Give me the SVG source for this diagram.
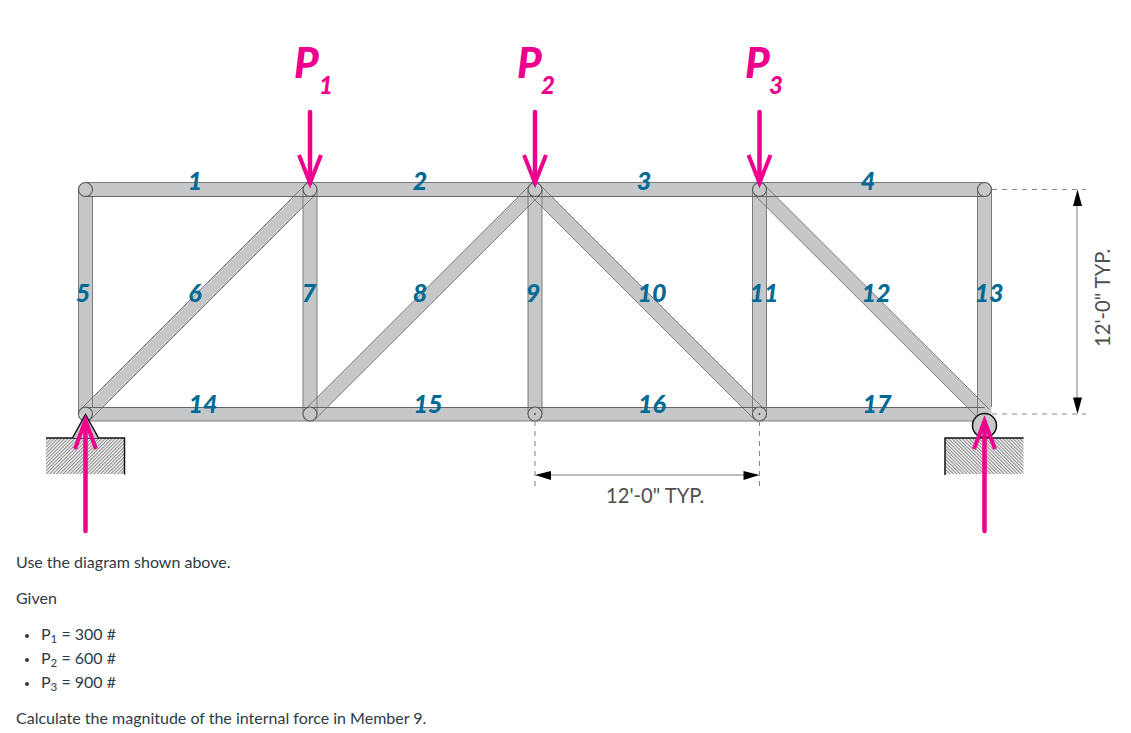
<svg xmlns="http://www.w3.org/2000/svg" width="1131" height="733" viewBox="0 0 1131 733">
<style>
.m{fill:#c6c7c9}
.o{fill:none;stroke:#7b7c7e;stroke-width:1}
.k{fill:none;stroke:#636466;stroke-width:1.200}
.j{fill:#c6c7c9;stroke:#58595b;stroke-width:1.100}
.e{fill:none;stroke:#58595b;stroke-width:1.100}
.n{font-family:Lato,sans-serif;font-weight:900;font-style:italic;font-size:25px;fill:#006a94;text-anchor:middle}
.p{font-family:Lato,sans-serif;font-weight:900;font-style:italic;fill:#ec008c}
.d{font-family:Lato,sans-serif;font-size:20.200px;fill:#505050}
.t{font-family:Lato,sans-serif;font-size:16px;fill:#2d3b45}
.s{font-size:11.500px}
.f{fill:none;stroke:#ec008c;stroke-width:4.500;stroke-linecap:round}
.h{fill:none;stroke:#ec008c;stroke-width:4;stroke-linejoin:miter;stroke-miterlimit:10}
.x{stroke:#8a8a8a;stroke-width:1.100;stroke-dasharray:5 5;fill:none}
.l{stroke:#a8a8a8;stroke-width:1.500;fill:none}
.b{fill:none;stroke:#111;stroke-width:1.500}
</style>
<defs>
<pattern id="hl" width="2.400" height="2.400" patternUnits="userSpaceOnUse" patternTransform="rotate(45)"><rect width="2.400" height="2.400" fill="#fff"/><rect width="1.200" height="2.400" fill="#8e8e8e"/></pattern>
<pattern id="hr" width="2.400" height="2.400" patternUnits="userSpaceOnUse" patternTransform="rotate(-45)"><rect width="2.400" height="2.400" fill="#fff"/><rect width="1.200" height="2.400" fill="#8e8e8e"/></pattern>
</defs>
<g id="blocks">
<rect x="46" y="438" width="78" height="36" fill="url(#hl)"/>
<path class="b" d="M46 438H124.500V474.500"/>
<rect x="945.500" y="438" width="78" height="36" fill="url(#hr)"/>
<path class="b" d="M945 475V438H1023.500"/>
</g>
<g id="members">
<path class="m" d="M78.500 189.500v225h14v-225z"/>
<path class="m" d="M80.500 409.500L305 185 315 195 90.500 419.500z"/>
<path class="m" d="M303 189.500v225h14v-225z"/>
<path class="m" d="M305 409.500L530 185 540 195 315 419.500z"/>
<path class="m" d="M528 189.500v225h14v-225z"/>
<path class="m" d="M530 195L540 185 764.500 409.500 754.500 419.500z"/>
<path class="m" d="M752.500 189.500v225h14v-225z"/>
<path class="m" d="M754.500 195L764.500 185 989.500 409.500 979.500 419.500z"/>
<path class="m" d="M977.500 189.500v225h14v-225z"/>
<path class="m" d="M85.500 182.500H984.500A7 7 0 0 1 984.500 196.500H85.500A7 7 0 0 1 85.500 182.500z"/>
<path class="m" d="M85.500 407.500H984.500A7 7 0 0 1 984.500 421H85.500A7 7 0 0 1 85.500 407.500z"/>
<path class="o" d="M78.500 189.500V414M92.500 196.500V407.500M303 189.500V414.500M317 189.500V414.500M528 189.500V414.500M542 189.500V414.500M752.500 189.500V414.500M766.500 189.500V414.500M977.500 189.500V414.500M991.500 189.500V407"/>
<path class="o" d="M80.500 409.500L305 185M90.500 419.500L315 195M305 409.500L530 185M315 419.500L540 195M530 195L754.500 419.500M540 185L764.500 409.500M754.500 195L979.500 419.500M764.500 185L989.500 409.500"/>
<path class="o" d="M85.500 182.500H984.500M85.500 421H984.500"/>
<path class="k" d="M85.500 196.500H984.500M85.500 407.500H984.500"/>
</g>
<g id="joints">
<circle class="e" cx="85.500" cy="189.500" r="7"/>
<circle class="e" cx="984.500" cy="189.500" r="7"/>
<circle class="e" cx="310" cy="189.500" r="7"/>
<circle class="e" cx="535" cy="189.500" r="7"/>
<circle class="e" cx="759.500" cy="189.500" r="7"/>
<circle class="e" cx="85.500" cy="414" r="7"/>
<circle class="j" cx="310" cy="414" r="7"/>
<circle class="j" cx="535" cy="414" r="7"/>
<circle class="j" cx="759.500" cy="414" r="7"/>
<circle cx="535" cy="414" r="0.900" fill="#444"/>
<circle cx="759.500" cy="414" r="0.900" fill="#444"/>
</g>
<g id="supports">
<path d="M72.500 438L85.500 414.500 98.500 438" fill="#c6c7c9" stroke="#111" stroke-width="1.500"/>
<circle cx="984.500" cy="425.500" r="12" fill="#c6c7c9" stroke="#111" stroke-width="1.500"/>
</g>
<g id="labels">
<text class="n" x="195" y="190">1</text>
<text class="n" x="420" y="190">2</text>
<text class="n" x="644" y="190">3</text>
<text class="n" x="868" y="190">4</text>
<text class="n" x="83" y="302">5</text>
<text class="n" x="195" y="302">6</text>
<text class="n" x="309" y="302">7</text>
<text class="n" x="420" y="302">8</text>
<text class="n" x="533" y="302">9</text>
<text class="n" x="652" y="302">10</text>
<text class="n" x="764" y="302">11</text>
<text class="n" x="876" y="302">12</text>
<text class="n" x="989" y="302">13</text>
<text class="n" x="203" y="413">14</text>
<text class="n" x="428" y="413">15</text>
<text class="n" x="652" y="413">16</text>
<text class="n" x="877" y="413">17</text>
</g>
<g id="connectors">
<path class="f" d="M310 112V183"/><path class="h" d="M299 155L310 183 321 155"/>
<path class="f" d="M535 112V183"/><path class="h" d="M524 155L535 183 546 155"/>
<path class="f" d="M759.500 112V183"/><path class="h" d="M748.500 155L759.500 183 770.500 155"/>
<path class="f" d="M85.500 531V422"/><path class="h" d="M75 449L85.500 420 96 449"/>
<path class="f" d="M984.500 531V422"/><path class="h" d="M974 449L984.500 421 995 449"/>
<path class="x" d="M535 421V486M759.500 421V486M992 189.500H1086M992 414H1086"/>
<path class="l" d="M550 475H745M1077 205V400"/>
<path d="M535 475L551 471V480z" fill="#000"/><path d="M759.500 475L743.500 471V480z" fill="#000"/>
<path d="M1077.500 189.500L1073 206H1082z" fill="#000"/><path d="M1077.500 414L1073 397.500H1082z" fill="#000"/>
</g>
<g id="text">
<text class="p" x="294" y="78" font-size="42">P</text><text class="p" x="319" y="94" font-size="24">1</text>
<text class="p" x="517" y="78" font-size="42">P</text><text class="p" x="541" y="94" font-size="24">2</text>
<text class="p" x="745" y="78" font-size="42">P</text><text class="p" x="769" y="94" font-size="24">3</text>
<text class="d" x="606" y="503">12'-0" TYP.</text>
<text class="d" transform="translate(1110 347) rotate(-90)">12'-0" TYP.</text>
<text class="t" x="16" y="568">Use the diagram shown above.</text>
<text class="t" x="16" y="604">Given</text>
<circle cx="27" cy="636" r="2" fill="#2d3b45"/><circle cx="27" cy="660" r="2" fill="#2d3b45"/><circle cx="27" cy="684" r="2" fill="#2d3b45"/>
<text class="t" x="41" y="640">P<tspan class="s" dy="3">1</tspan><tspan dy="-3"> = 300 #</tspan></text>
<text class="t" x="41" y="664">P<tspan class="s" dy="3">2</tspan><tspan dy="-3"> = 600 #</tspan></text>
<text class="t" x="41" y="688">P<tspan class="s" dy="3">3</tspan><tspan dy="-3"> = 900 #</tspan></text>
<text class="t" x="16" y="724">Calculate the magnitude of the internal force in Member 9.</text>
</g>
</svg>
